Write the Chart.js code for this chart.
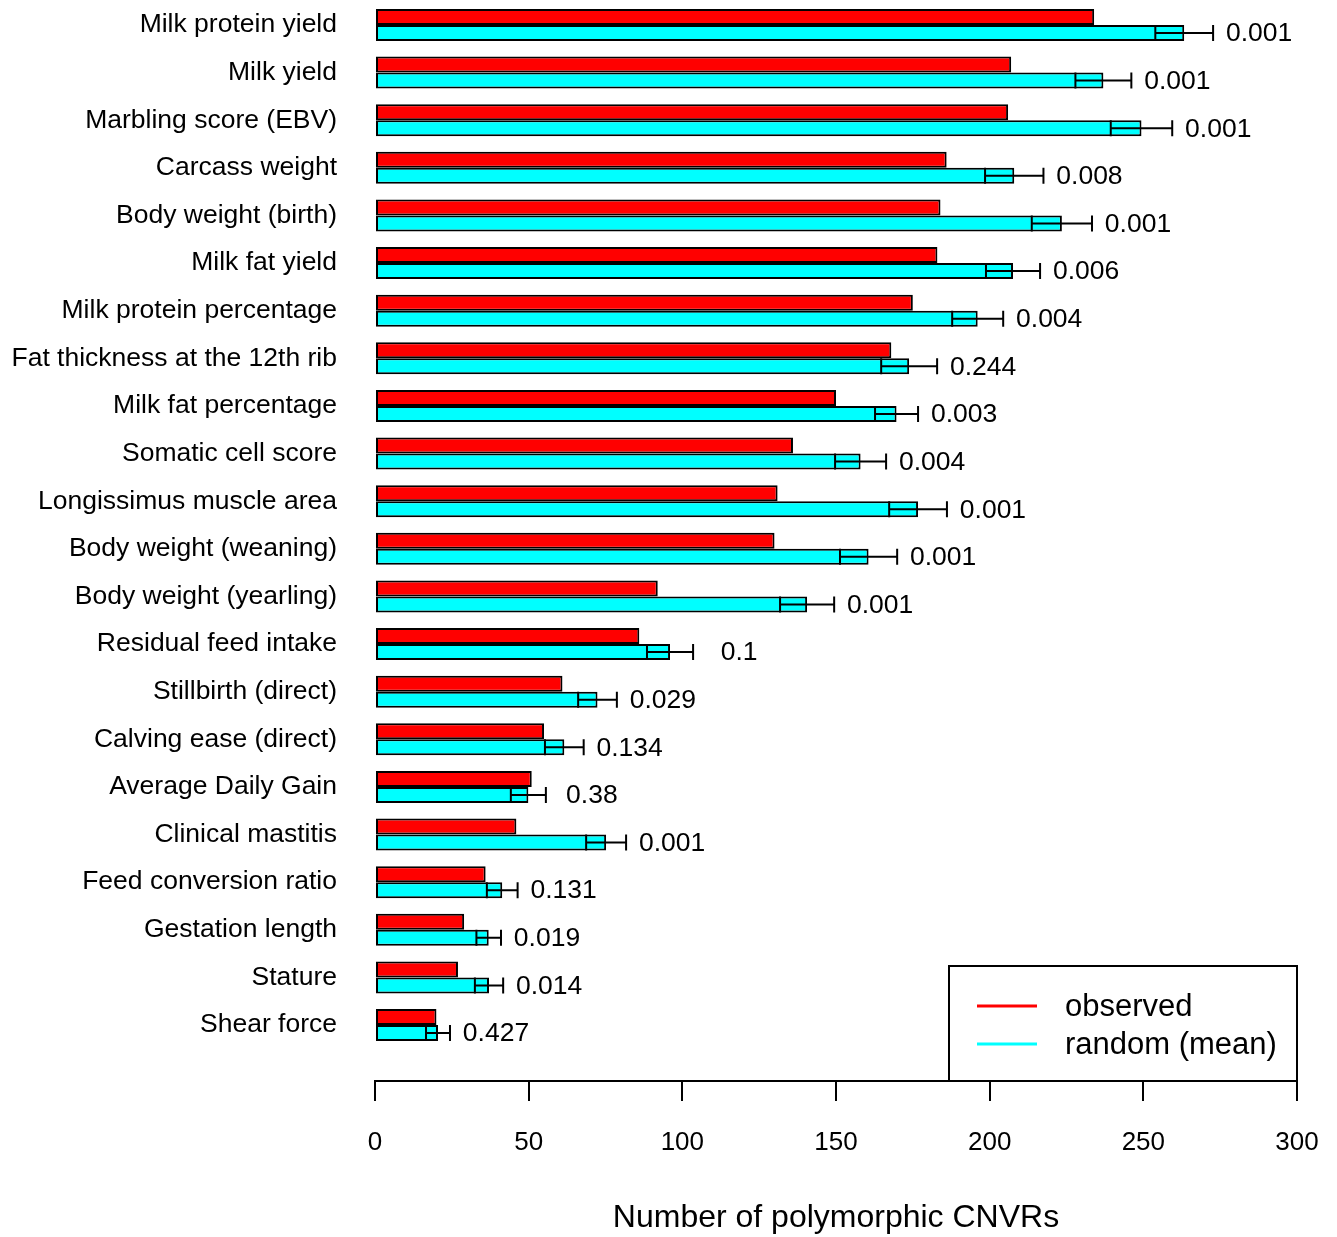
<!DOCTYPE html>
<html>
<head>
<meta charset="utf-8">
<script src="https://cdn.jsdelivr.net/npm/chart.js@4.4.1/dist/chart.umd.min.js"></script>
<style>
  html, body { margin: 0; padding: 0; background: #fff; }
  #wrap { width: 1337px; height: 1237px; }
</style>
</head>
<body>
<div id="wrap"><canvas id="traits"></canvas></div>
<script>
// data
const categories = [
  "Milk protein yield", "Milk yield", "Marbling score (EBV)", "Carcass weight",
  "Body weight (birth)", "Milk fat yield", "Milk protein percentage",
  "Fat thickness at the 12th rib", "Milk fat percentage", "Somatic cell score",
  "Longissimus muscle area", "Body weight (weaning)", "Body weight (yearling)",
  "Residual feed intake", "Stillbirth (direct)", "Calving ease (direct)",
  "Average Daily Gain", "Clinical mastitis", "Feed conversion ratio",
  "Gestation length", "Stature", "Shear force"
];
const observed = [234, 207, 206, 186, 184, 183, 175, 168, 150, 136, 131, 130, 92, 86, 61, 55, 51, 46, 36, 29, 27, 20];
const randomMean = [263.3, 237, 249.4, 208, 223.5, 207.6, 196.1, 173.8, 169.7, 158, 176.7, 160.6, 140.6, 96, 72.4, 61.6, 49.9, 75.2, 41.4, 37, 37.1, 20.5];
const randomErr = [9.4, 9.1, 10, 9.5, 9.8, 8.8, 8.3, 9.1, 7, 8.3, 9.4, 9.3, 8.8, 7.5, 6.3, 6.3, 5.7, 6.5, 5, 4, 4.6, 3.9];
const pValues = ["0.001", "0.001", "0.001", "0.008", "0.001", "0.006", "0.004", "0.244", "0.003", "0.004", "0.001", "0.001", "0.001", "0.1", "0.029", "0.134", "0.38", "0.001", "0.131", "0.019", "0.014", "0.427"];
const xTicks = [0, 50, 100, 150, 200, 250, 300];

const FONT = "'Liberation Sans', Arial, sans-serif";
const positions = categories.map((c, i) => i + 1);

// error bars + p-values on the "random" bars
const errorBars = {
  id: "errorBars",
  afterDatasetsDraw(chart) {
    const ctx = chart.ctx;
    const x = chart.scales.x;
    const meta = chart.getDatasetMeta(1);
    ctx.save();
    ctx.strokeStyle = "#000";
    ctx.lineWidth = 2;
    ctx.fillStyle = "#000";
    ctx.font = "26.5px " + FONT;
    ctx.textAlign = "center";
    ctx.textBaseline = "middle";
    meta.data.forEach((bar, i) => {
      const y = bar.y;
      const h = bar.height / 2;
      const lo = x.getPixelForValue(randomMean[i] - randomErr[i]);
      const hi = x.getPixelForValue(randomMean[i] + randomErr[i]);
      ctx.beginPath();
      ctx.moveTo(lo, y); ctx.lineTo(hi, y);
      ctx.moveTo(lo, y - h); ctx.lineTo(lo, y + h);
      ctx.moveTo(hi, y - h); ctx.lineTo(hi, y + h);
      ctx.stroke();
      ctx.fillText(pValues[i], hi + 46, y + 1);
    });
    ctx.restore();
  }
};

// boxed legend in the lower right corner of the plot
const boxLegend = {
  id: "boxLegend",
  afterDraw(chart) {
    const ctx = chart.ctx;
    const area = chart.chartArea;
    const w = 348, h = 115;
    const left = area.right - w, top = area.bottom - h;
    ctx.save();
    ctx.strokeStyle = "#000";
    ctx.lineWidth = 2;
    ctx.fillStyle = "#fff";
    ctx.fillRect(left, top, w, h);
    ctx.strokeRect(left, top, w, h);
    ctx.font = "31px " + FONT;
    ctx.textBaseline = "middle";
    chart.data.datasets.forEach((ds, i) => {
      const y = top + 40 + i * 38;
      ctx.strokeStyle = ds.backgroundColor;
      ctx.lineWidth = 3;
      ctx.beginPath();
      ctx.moveTo(left + 28, y); ctx.lineTo(left + 88, y);
      ctx.stroke();
      ctx.fillStyle = "#000";
      ctx.fillText(ds.label, left + 116, y + 1);
    });
    ctx.restore();
  }
};

const ctx = document.getElementById("traits").getContext("2d");
const traitChart = new Chart(ctx, {
  type: "bar",
  data: {
    labels: positions,
    datasets: [
      {
        label: "observed",
        data: observed,
        backgroundColor: "#ff0000",
        borderColor: "#000",
        borderWidth: 2,
        borderSkipped: false,
      },
      {
        label: "random (mean)",
        data: randomMean,
        backgroundColor: "#00ffff",
        borderColor: "#000",
        borderWidth: 2,
        borderSkipped: false,
      },
    ],
  },
  options: {
    indexAxis: "y",
    responsive: true,
    maintainAspectRatio: false,
    animation: false,
    categoryPercentage: 0.672,
    barPercentage: 1,
    layout: { padding: { top: 0, right: 40, left: 0, bottom: 0 } },
    plugins: { legend: { display: false }, tooltip: { enabled: false } },
    scales: {
      y: {
        type: "linear",
        reverse: true,
        offset: false,
        min: 0.475,
        max: 23.176,
        grid: { display: false, drawTicks: false, offset: false },
        border: { display: false },
        afterBuildTicks: (scale) => {
          scale.ticks = positions.map((v) => ({ value: v }));
        },
        afterFit: (scale) => {
          scale.width = 375;
          scale.paddingTop = 0;
          scale.paddingBottom = 0;
        },
        ticks: {
          autoSkip: false,
          padding: 38,
          color: "#000",
          font: { family: FONT, size: 26.5 },
          callback: (v) => categories[v - 1],
        },
      },
      x: {
        type: "linear",
        min: 0,
        max: 300,
        afterBuildTicks: (scale) => {
          scale.ticks = xTicks.map((v) => ({ value: v }));
        },
        afterFit: (scale) => {
          scale.height = 156;
          scale.paddingLeft = 0;
          scale.paddingRight = 0;
        },
        grid: {
          drawOnChartArea: false,
          drawTicks: true,
          tickLength: 20,
          color: "#000",
          lineWidth: 2,
        },
        border: { display: true, color: "#000", width: 2 },
        ticks: {
          padding: 26,
          color: "#000",
          maxRotation: 0,
          font: { family: FONT, size: 26 },
        },
        title: {
          display: true,
          text: "Number of polymorphic CNVRs",
          color: "#000",
          font: { family: FONT, size: 32 },
          padding: { top: 0, bottom: 0 },
        },
      },
    },
  },
  plugins: [errorBars, boxLegend],
});
</script>
</body>
</html>
